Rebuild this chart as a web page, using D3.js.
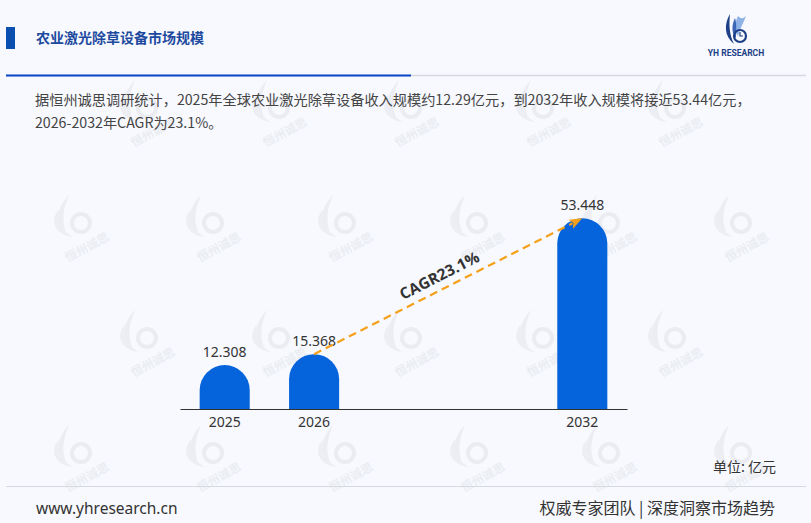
<!DOCTYPE html>
<html><head><meta charset="utf-8">
<script src="https://cdn.jsdelivr.net/npm/d3@7"></script>
<style>
html,body{margin:0;padding:0;background:#f7f9fe;}
svg{display:block;font-family:"Noto Sans CJK SC","Noto Sans",sans-serif;}
</style></head>
<body>
<svg id="c" width="811" height="523"></svg>
<script>
// ---- data ----
const title = "农业激光除草设备市场规模";
const subtitleLines = [
  "据恒州诚思调研统计，2025年全球农业激光除草设备收入规模约12.29亿元，到2032年收入规模将接近53.44亿元，",
  "2026-2032年CAGR为23.1%。"
];
const categories = ["2025", "2026", "2032"];
const values = [12.308, 15.368, 53.448];
const slots = ["2025", "2026", "gap1", "gap2", "2032"]; // axis slots (two empty)
const cagrLabel = "CAGR23.1%";
const cagrFrom = "2026", cagrTo = "2032";
const unitLabel = "单位: 亿元";
const footerLeft = "www.yhresearch.cn";
const footerRight = "权威专家团队 | 深度洞察市场趋势";

const W = 811, H = 523;
const svg = d3.select("#c");
svg.append("rect").attr("width", W).attr("height", H).attr("fill", "#f7f9fe");

// ---- watermarks (decorative, kept inside the frame) ----
const wm = svg.append("g").attr("class", "wm");
const wmRowY = [102, 217, 332, 447];
wmRowY.forEach((ry, ri) => {
  const x0 = (ri % 2 === 0) ? 139 : 73;
  for (let x = x0 - 264; x < W; x += 132) {
    if (x < 25 || x > W - 45) continue;
    const g = wm.append("g").attr("transform", `translate(${x},${ry})`);
    g.append("path").attr("d", "M-4,-22 C-16,-10 -20,8 -6,18 C-12,4 -10,-8 -4,-22 Z").attr("fill", "#ebedf2");
    g.append("path").attr("d", "M-14,-8 C-24,4 -18,18 0,20 C-12,14 -16,4 -14,-8 Z").attr("fill", "#eceef3");
    g.append("circle").attr("cx", 8).attr("cy", 6).attr("r", 9).attr("fill", "none").attr("stroke", "#eaecf1").attr("stroke-width", 4);
    g.append("text").attr("x", 16).attr("y", 34).attr("transform", "rotate(-28,16,34)")
      .attr("text-anchor", "middle").attr("font-size", 12).attr("font-weight", "bold")
      .attr("fill", "#ebedf2").text("恒州诚思");
  }
});

// ---- header ----
svg.append("rect").attr("x", 6).attr("y", 27).attr("width", 9).attr("height", 22).attr("fill", "#0b4fb0");
svg.append("text").attr("x", 36).attr("y", 43).attr("font-size", 14).attr("font-weight", "bold")
  .attr("fill", "#1d4a9f").text(title);

// logo
const logo = svg.append("g").attr("transform", "translate(736,30)");
logo.append("path").attr("d", "M-6,-16 C-12,-6 -12,6 -2,14 C-7,4 -7,-6 -6,-16 Z").attr("fill", "#1d3f86");
logo.append("path").attr("d", "M2,-14 C-2,-6 -2,2 2,6 C4,-2 8,-8 10,-14 C6,-10 4,-12 2,-14 Z").attr("fill", "#8fb2e6");
logo.append("path").attr("d", "M-1,-12 C-5,-4 -4,4 0,8 C0,0 1,-6 -1,-12 Z").attr("fill", "#3b66b8");
logo.append("circle").attr("cx", 4).attr("cy", 6).attr("r", 6).attr("fill", "none").attr("stroke", "#1d3f86").attr("stroke-width", 2.2);
logo.append("path").attr("d", "M4,2 L4,6 L7,6").attr("fill", "none").attr("stroke", "#1d3f86").attr("stroke-width", 1.2);
svg.append("text").attr("x", 736).attr("y", 56).attr("text-anchor", "middle").attr("font-size", 8.5)
  .attr("font-weight", "bold").attr("fill", "#1d3f86").attr("font-family", "Roboto, sans-serif").text("YH RESEARCH");

// separator
svg.append("line").attr("x1", 6).attr("x2", 806).attr("y1", 75.5).attr("y2", 75.5).attr("stroke", "#d6d9e0").attr("stroke-width", 1.5);
svg.append("line").attr("x1", 6).attr("x2", 411).attr("y1", 75.5).attr("y2", 75.5).attr("stroke", "#0a46c8").attr("stroke-width", 2);

// subtitle
svg.append("g").selectAll("text").data(subtitleLines).join("text")
  .attr("x", 35).attr("y", (d, i) => 105 + i * 23)
  .attr("font-size", 14.2).attr("fill", "#444").text(d => d);

// ---- chart ----
const x = d3.scaleBand().domain(slots).range([180, 627]).paddingInner(0.44).paddingOuter(0.22);
const y = d3.scaleLinear().domain([0, 53.448]).range([409, 218.3]);
const data = categories.map((c, i) => ({c, v: values[i]}));
const bw = x.bandwidth();
const r = bw / 2;

function barPath(d) {
  const x0 = x(d.c), x1 = x0 + bw, y0 = y(0), yt = y(d.v);
  const rr = Math.min(r, y0 - yt);
  return `M${x0},${y0} L${x0},${yt + rr} A${r},${rr} 0 0 1 ${x1},${yt + rr} L${x1},${y0} Z`;
}
svg.append("g").selectAll("path").data(data).join("path")
  .attr("d", barPath).attr("fill", "#0563dc");

// axis
const axis = d3.axisBottom(x).tickSize(0).tickPadding(8)
  .tickFormat(d => categories.includes(d) ? d : "");
const ag = svg.append("g").attr("transform", `translate(0,${y(0)})`).call(axis);
ag.select(".domain").attr("stroke", "#333").attr("stroke-width", 1.2);
ag.selectAll("text").attr("font-size", 14).attr("fill", "#333")
  .attr("font-family", "'Noto Sans', sans-serif");

// value labels
svg.append("g").selectAll("text").data(data).join("text")
  .attr("x", d => x(d.c) + bw / 2).attr("y", d => y(d.v) - 8)
  .attr("text-anchor", "middle").attr("font-size", 14).attr("fill", "#333")
  .attr("font-family", "'Noto Sans', sans-serif")
  .text(d => d.v.toFixed(3));

// CAGR arrow
const fromD = data.find(d => d.c === cagrFrom), toD = data.find(d => d.c === cagrTo);
const ax1 = x(fromD.c) + bw / 2, ay1 = y(fromD.v);
const ax2 = x(toD.c) + bw / 2, ay2 = y(toD.v);
const ang = Math.atan2(ay2 - ay1, ax2 - ax1);
const headL = 13, headW = 5;
const bx = ax2 - headL * Math.cos(ang), by = ay2 - headL * Math.sin(ang);
svg.append("line").attr("x1", ax1).attr("y1", ay1).attr("x2", bx + 2 * Math.cos(ang)).attr("y2", by + 2 * Math.sin(ang))
  .attr("stroke", "#f5a01a").attr("stroke-width", 2.2).attr("stroke-dasharray", "8,5");
const px = -Math.sin(ang), py = Math.cos(ang);
svg.append("path")
  .attr("d", `M${ax2},${ay2} L${bx + px * headW},${by + py * headW} L${bx + 3 * Math.cos(ang)},${by + 3 * Math.sin(ang)} L${bx - px * headW},${by - py * headW} Z`)
  .attr("fill", "#f5a01a");
const deg = ang * 180 / Math.PI;
const mx = ax1 + (ax2 - ax1) * 0.49, my = ay1 + (ay2 - ay1) * 0.49;
const off = 14;
const tx = mx + Math.sin(ang) * off, ty = my - Math.cos(ang) * off;
svg.append("text").attr("transform", `translate(${tx},${ty}) rotate(${deg})`)
  .attr("text-anchor", "middle").attr("dominant-baseline", "central")
  .attr("font-size", 15.5).attr("font-weight", "bold").attr("fill", "#333")
  .attr("font-family", "'Open Sans', 'Noto Sans', sans-serif")
  .text(cagrLabel);

// unit
svg.append("text").attr("x", 776).attr("y", 472).attr("text-anchor", "end")
  .attr("font-size", 14).attr("fill", "#333").text(unitLabel);

// footer
svg.append("line").attr("x1", 6).attr("x2", 806).attr("y1", 486.5).attr("y2", 486.5).attr("stroke", "#d6d9e0").attr("stroke-width", 1.2);
svg.append("text").attr("x", 36).attr("y", 514).attr("font-size", 15.5).attr("fill", "#333")
  .attr("font-family", "'Noto Sans', sans-serif").text(footerLeft);
svg.append("text").attr("x", 775).attr("y", 514).attr("text-anchor", "end").attr("font-size", 16)
  .attr("fill", "#333").text(footerRight);
</script>
</body></html>
